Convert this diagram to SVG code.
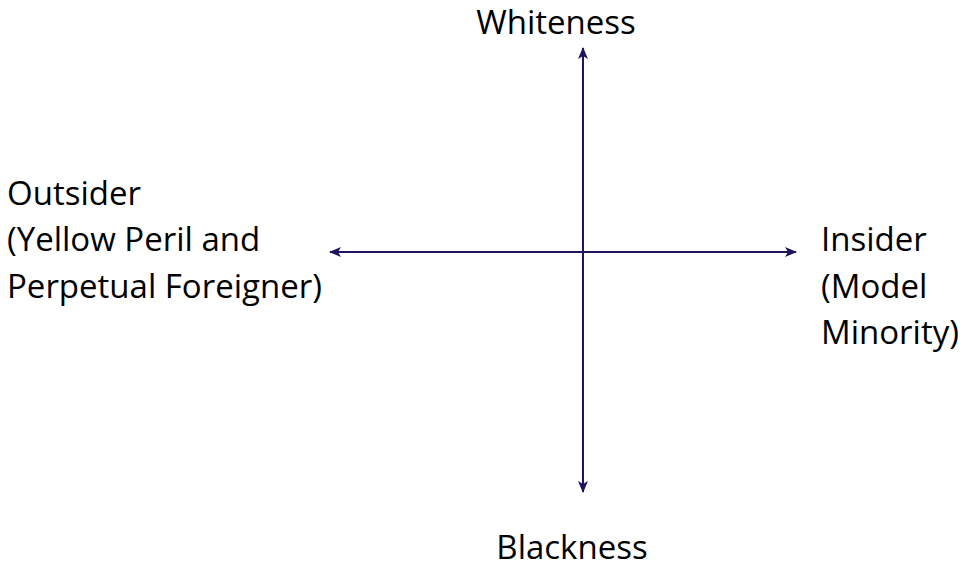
<svg xmlns="http://www.w3.org/2000/svg" width="966" height="569" viewBox="0 0 966 569">
<style>
.t{font-family:"Open Sans","Noto Sans",sans-serif;font-size:33px;fill:#000}
.ax{stroke:#22135e;stroke-width:2;fill:none}
</style>
<defs>
<marker id="ah" viewBox="0 0 12 10" refX="11" refY="5" markerWidth="13" markerHeight="10" markerUnits="userSpaceOnUse" orient="auto">
<path d="M0,0 L12,5 L0,10 L3,5 Z" fill="#22135e"/>
</marker>
</defs>
<rect width="966" height="569" fill="#fff"/>
<g id="connectors">
<line class="ax" x1="583" y1="252" x2="583" y2="48" marker-end="url(#ah)"/>
<line class="ax" x1="583" y1="252" x2="583" y2="492" marker-end="url(#ah)"/>
<line class="ax" x1="583" y1="252" x2="330" y2="252" marker-end="url(#ah)"/>
<line class="ax" x1="583" y1="252" x2="796" y2="252" marker-end="url(#ah)"/>
</g>
<g id="whiteness"><text class="t" x="556" y="34" text-anchor="middle">Whiteness</text></g>
<g id="blackness"><text class="t" x="572" y="559" text-anchor="middle">Blackness</text></g>
<g id="outsider"><text class="t" x="7" y="205">Outsider</text><text class="t" x="7" y="251">(Yellow Peril and</text><text class="t" x="7" y="298">Perpetual Foreigner)</text></g>
<g id="insider"><text class="t" x="821" y="251">Insider</text><text class="t" x="821" y="298">(Model</text><text class="t" x="821" y="344">Minority)</text></g>
</svg>
